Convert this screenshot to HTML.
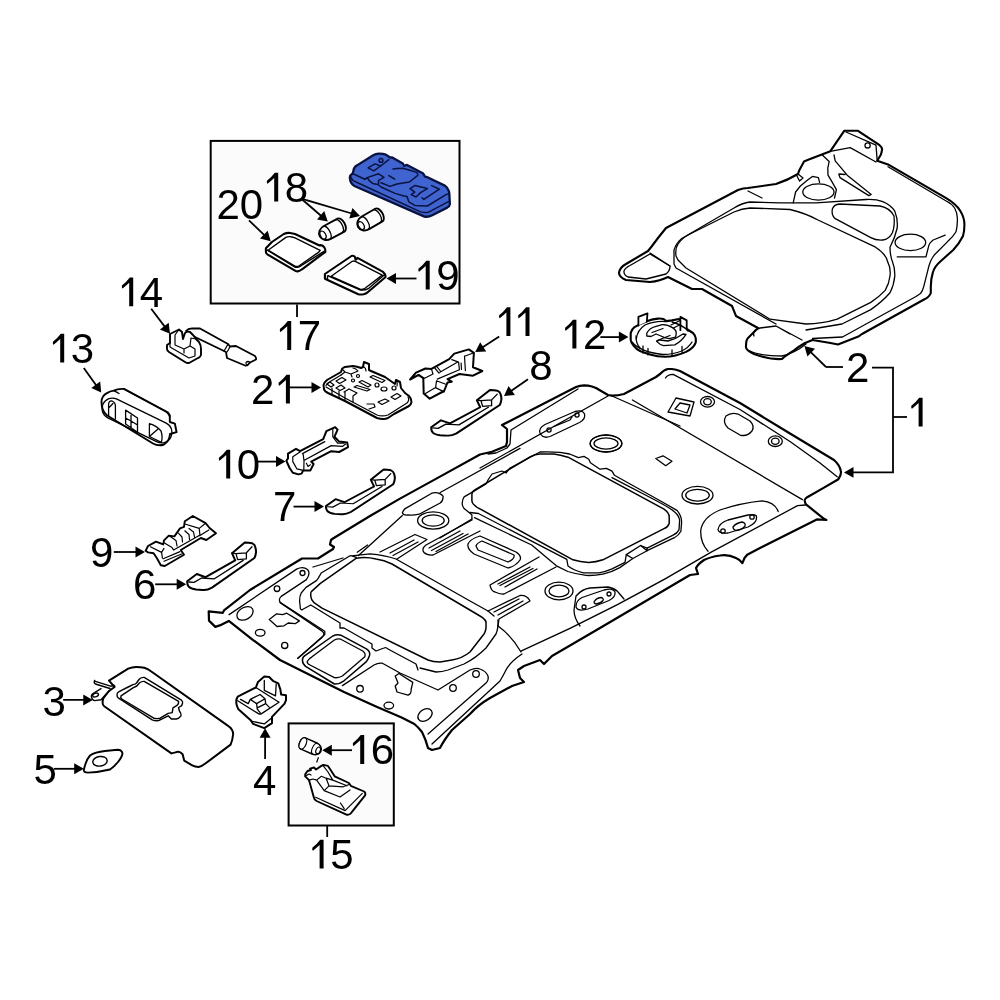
<!DOCTYPE html>
<html><head><meta charset="utf-8"><style>
html,body{margin:0;padding:0;background:#fff;width:1000px;height:1000px;overflow:hidden}
svg{display:block}
text{font-family:"Liberation Sans",sans-serif}
</style></head><body>
<svg width="1000" height="1000" viewBox="0 0 1000 1000">
<rect width="1000" height="1000" fill="#fff"/>
<g fill="#fbfbfb" stroke="#000" stroke-width="2">
<rect x="210.7" y="140.9" width="248.8" height="162.6"/>
<rect x="288.6" y="723.4" width="105.2" height="102.1"/>
</g>
<!-- part 20 -->
<g fill="#fff" stroke="#000" stroke-linejoin="round">
<path stroke-width="2.1" d="M265.9,248.3 L271.9,242 L283.8,234 Q287,232.6 290.1,233 Q292.6,233.3 295,234 L319.5,245.5 L320.2,245.1 L322.3,245.5 Q324.3,246.7 325.1,249 L325.4,251.8 L302,269.3 Q299.8,271.1 297.8,271.4 Q296.2,271.4 295,270.7 L267.7,254.6 Q265.8,253.3 265.9,251.8 Z"/>
<path fill="none" stroke-width="1.4" d="M266.6,249.7 L295,267.2 Q297.2,267.5 299.2,266.8 L324.4,251.1"/>
<path fill="none" stroke-width="1.4" d="M268.4,250 L285.9,237.4 Q288.3,236.3 290.8,236.7 Q293,237 295,237.8 L320.2,250.4 L318.8,252.1 L299.2,265.8 Q297.5,266.7 295.7,266.5 L268.4,250.4"/>
</g>
<!-- part 19 -->
<g fill="#fff" stroke="#000" stroke-linejoin="round">
<path stroke-width="2.1" d="M324.9,274 L351.5,256 Q353,255.3 354.9,256.8 L355.6,259.8 L357.5,257.9 L383,271.8 Q385.3,273.6 385.6,277 L368,292 Q366,293.8 363.5,294.3 Q360.5,294.8 358.3,294.3 L326,279.3 Q324.8,278.7 324.9,278.5 Z"/>
<path fill="none" stroke-width="1.4" d="M327.5,275.5 L360.5,290 Q365,290.5 368.8,288.3 L384.5,274.8"/>
<path fill="none" stroke-width="1.4" d="M331.2,276.3 L352.3,261.3 Q354,260.6 355.3,261.3 L382.3,275.1 L365,288.3 Q362.5,289.6 360.5,289.4 Z"/>
<path fill="none" stroke-width="1.4" d="M327.5,275.5 L327.5,279.8"/>
</g>
<!-- bulbs 18 -->
<g fill="#fff" stroke="#000" stroke-width="1.9">
<g transform="translate(332.6,229.6) rotate(-28)">
<path d="M-6,-7.3 L9.5,-7.3 A4,7.3 0 0 1 9.5,7.3 L-6,7.3 A8.5,7.3 0 0 1 -6,-7.3 Z"/>
<ellipse cx="-11" cy="0.3" rx="2.6" ry="4.3" stroke-width="1.3"/>
<path fill="none" stroke-width="1.3" d="M-6.5,-7.2 A3.8,7.3 0 0 1 -6.5,7.2"/>
<path fill="none" stroke-width="1.3" d="M7.3,-7.1 A3.4,7.1 0 0 1 7.3,7.1"/>
</g>
<g transform="translate(370.6,219.8) rotate(-30)">
<path d="M-6,-7.3 L9.5,-7.3 A4,7.3 0 0 1 9.5,7.3 L-6,7.3 A8.5,7.3 0 0 1 -6,-7.3 Z"/>
<ellipse cx="-11" cy="0.3" rx="2.6" ry="4.3" stroke-width="1.3"/>
<path fill="none" stroke-width="1.3" d="M-6.5,-7.2 A3.8,7.3 0 0 1 -6.5,7.2"/>
<path fill="none" stroke-width="1.3" d="M7.3,-7.1 A3.4,7.1 0 0 1 7.3,7.1"/>
</g>
</g>
<!-- part 17 lamp (blue) -->
<g stroke="#0a1240" stroke-linejoin="round" stroke-linecap="round">
<path fill="#3f63cf" stroke-width="2.3" d="M349.8,177.6 Q350,175 352.8,173.2 L354,168.4 Q355,166.4 357,165.4 L373.2,155.2 Q375.8,153.8 378.6,153.7 Q383,153.6 385.8,154.6 L389.4,157 L390.6,157.6 L391.8,157.3 L402.8,163.4 L404,165.8 L407,164.9 L423.2,173.6 L425,176.6 L427.4,177.2 L444.8,185.6 Q447.3,187.4 447.8,189.2 Q449.2,191.2 449.3,193.4 L449.9,204.2 Q449.6,206.3 447.2,207.6 L432.2,215.2 Q428.5,217.3 424.5,216.6 L354.4,186 Q350.2,183.6 349.8,177.6 Z"/>
<g fill="none" stroke-width="1.5">
<path d="M352.8,173.2 Q353.5,174.3 355.2,174.8 L364.8,179.2 L367.6,177.8 L369,180.4 L372.6,183.4 L378,184.5 L381,187 L395,193.4 L404,196 L407,196.4 L408.8,201.8 L414.8,205.4 L427.4,206 L446,194.6 L449.3,193.4"/>
<path d="M351,177.4 Q352,180.4 356,182 L420,211.6 Q424.5,213 428.6,212.2 L448.5,201.6"/>
<circle cx="381" cy="160.4" r="1.9"/>
<path d="M368.1,167.8 L375,163.9 L380.6,166 L373.8,170.8 Z"/>
<path d="M380.6,166 L388.8,159.6"/>
<path d="M364.8,179.2 L367.8,177.4 L378.6,173.8 L384,177.4 L378.6,180.4 L378.6,183.4"/>
<path d="M388.8,175.6 L394.8,179.2"/>
<path d="M393,169 L397,168.6 L402.8,168.2 L410,170.2 L416.6,172.4 L417.8,174.2"/>
<path d="M381,182.8 L390,186.4 L397,184 L409.4,182 L417.8,175.4"/>
<path d="M410,188.6 L414.8,185.6 L427.4,188.6 L420.5,192.6 L416,197 L411.2,194.6 L414.8,192.2 Z"/>
<path d="M431.6,185.6 L439.4,189.2 L423.8,199.4 L422,197.8"/>
</g>
</g>
<!-- part 1 headliner -->
<g fill="none" stroke="#000" stroke-linejoin="round" stroke-linecap="round">
<path stroke-width="2.2" fill="#fff" d="M208.7,611.3 L222.8,612.8 L224,610.4 L250,590 L302,558.5 L318,558.5 L333,549 L334,547 L330,544.5 L331,540 L333,538.5 L370,516 L400,498.6 L440,476.6 L480,454.5 L492,451.8 L506,446 L507,442 L507,429 L502,425 L576,387 Q580,385.4 584,385.4 L588,385.6 Q592,386.2 596,388 L608,395 L612,395.6 Q618,395.6 624,394 L656,377 L660,374 Q664,369.6 668,369 L672,369 Q676,369.4 680,371 L740,403 L790,433.5 L834,460 Q839.6,465 840.8,470.8 Q841.8,474 838.4,479.2 L824,487.6 L807.2,497.2 Q804,499.6 804.8,500.8 Q805,503 806,504.4 L824,518.8 L826.4,520 L816.8,519.4 L760,548 L747.2,554.8 L744.5,558 L742.4,563.2 Q740,559.5 736,558 Q728,554 720,555.5 Q710,557 704,560 Q698,564 696,568 L698,574 L690,575 L600,628 L552,656 L544,664 L540,660 L524,666 L518,670 L520,678 L524,682 L512,686 L490,698 Q478,705 470,714 L452,730 Q444,740 440,748 L432,750 L428,748 Q426,740 422,732 Q418,727 414.4,724 L401.6,717.6 L376,706.4 L344,692 L312,676 L280,660 L252.8,639.8 L228.8,620.9 L219.8,625.4 L215.3,626.9 L209,620.6 Z"/>
</g>
<!-- headliner interior -->
<g fill="none" stroke="#000" stroke-width="1.3" stroke-linejoin="round" stroke-linecap="round">
<!-- left panel -->
<path d="M229.1,614.6 L296.6,569.1 Q303,566 307.5,569.5 Q311,573.5 306.4,579.6 L281.2,596.4 Q277.5,600 281.2,603.4 L322.5,631.4 Q325.5,634 322,637.5 L297.6,658.4"/>
<circle cx="302.5" cy="573" r="2.5"/>
<circle cx="277" cy="588.7" r="2.8"/>
<ellipse cx="245" cy="613.4" rx="8.8" ry="6" transform="rotate(-30 245 613.4)"/>
<ellipse cx="260.2" cy="632.8" rx="4.8" ry="3.4"/>
<circle cx="284.7" cy="645.4" r="3.1"/>
<path d="M269.3,619.5 L276.3,613.9 L282.6,614.6 L286.8,613.2 L299.4,620.9 L295.2,623.7 L288.2,623 L284,625.8 L277,626.5 Z"/>
<!-- top-left inner line & sunroof rear frame region lines -->
<path d="M313,567 L343,558"/>
<!-- rear cutout -->
<path stroke-width="1.5" d="M302.4,660 Q302.5,657 305.6,655.2 L332.8,636 Q336.8,634 340.8,635.2 L366.4,648.8 Q370.5,651.5 369.6,655.2 Q368.5,659 366.4,661.6 L344,680.8 Q339,684.5 334.4,684 L305.6,666.4 Q302.3,663.5 302.4,660 Z"/>
<path d="M307.2,661.6 Q308.5,658.5 312,656.8 L334.4,640 Q337.6,638.4 340.8,639.2 L362.8,651 Q366,653.5 364.8,656.8 L342.4,676 Q338.5,678.2 334.4,677.6 L310,665 Q307,663.5 307.2,661.6 Z"/>
<path d="M342.4,685.6 L374.4,664.8 Q378.4,662.5 382.4,663.2 L400,673 L438,690 L470,670 Q476,667.5 480,669 Q486,671 488,676 Q489,680 486,683 L428,734"/>
<path d="M522,654 Q510,662 506,670 Q503,676 500,681 L432,744"/>
<circle cx="476" cy="674" r="3.3"/>
<circle cx="453" cy="688" r="3.3"/>
<ellipse cx="425" cy="715" rx="7.8" ry="5.6" transform="rotate(-35 425 715)"/>
<circle cx="360" cy="688.8" r="3.3"/>
<ellipse cx="388.8" cy="705.6" rx="4.8" ry="3.4"/>
<path d="M395.2,676 L399,673.5 L402,675.5 L412.8,682.4 L411.2,689 Q411.5,694 408,695.2 L397,692 L395.2,686 L398,683 Z"/>
<!-- rear sunroof opening -->
<path stroke-width="1.5" d="M310.8,596.2 Q310.5,592 311.6,591.4 L320.4,583.4 L356.4,558.2 Q366,556.5 376,559 Q384,560 392,564 L480,616 Q487,620 486,624 Q486.5,630 484,634 L470,652 Q462,658.5 452,660 L440,662 Q433,662 428,660 L322,608.2 L314,602.6 Q311,600 310.8,596.2 Z"/>
<path d="M302,609.8 L300.4,609 L299.6,601 Q299.5,596 301.2,593 L306,587.4 L316.4,580.6 L318,578.6 L321.2,573 L349.2,556.2 Q351,555.5 351.6,555.8 L356.4,557.4 M351.6,555.8 L370,553.8 Q385,555 396,559 L470,601 L488,611 L494,616"/>
<path d="M357.2,552.2 L367.6,545"/>
<path d="M302,609.8 L310.8,605 L340,623 L340,628 L344,628 L372,644 L372,648 L376,651 L384,648 Q386,647 388,649 L416,664 L418,670"/>
<path d="M498,620 Q498.5,628 496,634 L486,648 Q476,658 464,664 L448,670 Q442,672 436,672 L420,668"/>
<path d="M280,602.4 L324.8,631.2 L324.8,634.4 L297.6,658.4"/>
<!-- middle ribs & features -->
<path d="M402.4,512.8 Q403.5,509.6 405.2,508.6 L431.8,493.2 Q436,491.8 440.2,493.9 Q444,496 443,497.4 Q443,501 440.2,503 L419.2,514.2 Q413,515.6 408,515 Q403,515.5 402.4,512.8 Z"/>
<path d="M440.2,492.5 L520,448.4"/>
<path d="M402.4,515.6 L358.5,555.5"/>
<ellipse cx="433.2" cy="520.5" rx="15.6" ry="8.6"/>
<ellipse cx="433.2" cy="520.5" rx="11" ry="5.6"/>
<path d="M380,552 L415,534.5 L427,539.5 L397,559"/>
<path d="M390,553 L414,540 M393,555.5 L418,542"/>
<path d="M472,520 L426,545 Q421,549 424,552.5 Q427,555.5 433,555 L480,531"/>
<path d="M429,548 L460,531 M431.5,550.5 L463,533.5 M436,551.5 L468,534"/>
<path d="M471.9,519 L440,538"/>
<!-- slot -->
<path d="M468,544 Q470,539 480,536 L516,552 Q522,556 520,560 Q516,566 508,568 L474,554 Q467,549 468,544 Z"/>
<path d="M476,546 Q477,543 482,541 L514,555 Q515,559 508,562 L478,550 Z"/>
<!-- ribs lower -->
<path d="M539,557 L490,585 Q491,591 495,592 Q500,594.5 504,594 L556,567"/>
<path d="M498,584 L530,567 M500,585.5 L533,568.5 M505,587 L537,569"/>
<path d="M488,611 L520,595.5 Q527,595 530,601 L499,619 L498,626"/>
<path d="M494,612 L519,599 M498,615 L523,601"/>
<ellipse cx="559" cy="591" rx="14" ry="8.8"/>
<ellipse cx="559" cy="591" rx="10" ry="5.8"/>
<!-- front sunroof opening -->
<path stroke-width="1.5" d="M471.9,494.3 Q472,491.5 474,490.5 L530,457 Q535,454 540,454 L554,454 Q560,455 568,457.2 L664,509.1 Q669.2,512.5 669.2,516.9 L669.2,523.4 Q668,527 664,528.6 L602.9,559.8 Q596,562.3 588.6,562.4 Q580,562 573,559.8 L477.1,507.3 Q472,504 471.9,500.8 Z"/>
<path d="M612,477.6 L655,500 Q671,508.5 674.4,511.7 Q679.5,516 679.6,520.8 L679,529.9 Q677,533.5 673.1,535.1 L647.1,548.1 L640.6,545.5 L626.3,554.6 L625,562.4 L612,568.9 Q605,572 599,572.8 L583.4,572.8 Q574,570.5 568,566 L566.8,559.3 L531.7,541.1 L478.4,513.5 L470,512.5"/>
<path d="M640.6,545.5 L647.1,550.7 M626.3,554.6 L632.8,558.5 M647.1,548.1 L647.1,550.7"/>
<path d="M471.9,519 L471.9,515 L470.6,513.8 L464.1,508.6 Q462,506 462.2,503.4 Q462.5,499 464.1,496.9 L471.9,492.4 L486,484 L488,480 L492,474 L502,471 L506,473 L510,468 L540,452 Q550,451.5 560,452.4 L569.6,454 L578.4,457.6 L584,456.4 L588.8,459.2 L590.4,462.8 L600,469.2 L606.4,468.4 L612,471.2 L614.4,475.2 L658.8,500 L677,510.4 Q681.5,515.5 681.6,522.1 L680.9,531.2 Q678.5,535.5 674.4,537.7 L647.1,550.7 L632.8,558.5 L619.8,567.6 Q611,572.5 602.9,574.1 Q594,575.8 586,575.4 Q576,574 567.8,571.5 L556.4,565.8 L531.7,545 L474.5,517.7"/>
<!-- right area -->
<path d="M632.4,400 L802.4,499.6"/>
<path d="M608,396 L480,468"/>
<path d="M612,396 L680,426"/>
<path d="M665.5,378 Q667,374.5 673.2,374.3 L740,409.5 L790,441.5 L820,463 L837.2,476.8"/>
<path d="M805.4,505 L797.6,505.6 L711.2,552.1 Q620,607 520.9,651.1"/>
<path d="M498,626 Q512,636 521,652"/>
<ellipse cx="697.5" cy="495.2" rx="15.5" ry="8.8"/>
<ellipse cx="697.5" cy="495.2" rx="11.8" ry="5.9"/>
<ellipse cx="606" cy="443.5" rx="15.8" ry="8.5"/>
<ellipse cx="606" cy="443.5" rx="12" ry="5.6"/>
<ellipse cx="606" cy="443.5" rx="15.8" ry="8.5"/>
<path d="M655.8,458.5 L663,455.8 L672,461.2 L665.7,465.7 Z"/>
<path d="M668,412 L676,398 L694,402 L690,416 Z M675,409 L680,403 L690,405 L687,413 Z"/>
<ellipse cx="707.5" cy="401.8" rx="7" ry="5.3"/><ellipse cx="707.5" cy="401.8" rx="3.8" ry="3.1"/>
<ellipse cx="775.3" cy="441.2" rx="7" ry="5.3"/><ellipse cx="775.3" cy="441.2" rx="3.8" ry="3.1"/>
<path d="M726,416 Q731,412 738,414 L750,421 Q755,426 752,431 Q747,437 740,435 L728,428 Q722,422 726,416 Z"/>
<!-- grab recess right -->
<path d="M708,551.2 Q700,542 700.8,530 Q703,517 720,510 Q740,503 762,500.8 Q775,502 778.2,511.6"/>
<path d="M718,529.6 Q719,523 728,520 L748,515 Q757,514 756.6,517 Q757,523 748,527 L728,533 Q719,534 718,529.6 Z"/>
<circle cx="723" cy="531" r="2.2"/><circle cx="752" cy="517" r="2.2"/>
<path d="M733,527 Q736,523 742,522 Q746,523 745,526 Q742,530 736,530.5 Q733,529.5 733,527 Z"/>
<!-- grab recess mid -->
<path d="M580,626 Q574,618 574,610 Q576,596 576,596 Q582,589 590,588 L608,587 Q616,589 618,592 L624,599"/>
<path d="M576,607 Q575.5,601 582,597.5 L604,590 Q613,587.5 615,592 Q616,597 609,600.5 L588,609 Q578,612 576,607 Z"/>
<circle cx="584" cy="607" r="2"/><circle cx="609" cy="594" r="2"/>
<path d="M594,602 Q596,598 601,597.5 Q604,598 603,600.5 Q600,604 596,604 Q594,603.5 594,602 Z"/>
<!-- top recess -->
<path d="M540,433 Q538.5,428 545,424.5 L575,411.5 Q582.5,409.5 584.5,414 Q586,419 579.5,422.5 L550,436.5 Q543,439 540,433 Z"/>
<circle cx="549" cy="430" r="2.1"/><circle cx="577" cy="415" r="2.1"/>
<path d="M554,426.5 L559,424.3 L570,420 L572,417"/>
<!-- left side top inner line -->
<path d="M488,454 L496,453 L507,448 L510,444 L511,430 L578,389"/>
</g>
<!-- part 2 -->
<g fill="none" stroke="#000" stroke-linejoin="round" stroke-linecap="round">
<path fill="#fff" stroke-width="2.1" d="M619,273 Q619.5,267.5 626,264 L648,251 L652,246 L655,242 L658,238 L666,228 L738,190 Q743,188 748,188 L776,184 Q788,180 798,174 L799.2,170.4 L804,161.4 L808.8,159.6 L830.4,151.2 L844.2,130.8 L858,130.8 L879.6,145.2 Q882.5,147.5 882,150 Q881.5,153 880.8,154.8 L877.2,160.8 L888,164.4 L946.2,198.2 Q956,204 960.2,210.8 Q964.6,218 964.4,224.8 Q964.5,231 963,236 Q959,244 953.2,250 L940.6,261.2 Q934,267 932.9,272.4 Q930.8,279 930.8,286.4 L930.8,293 Q929.5,297 924,299.5 L862,334 L859,336.2 L838,344.5 L830.5,343 L812.5,340 L805,343 Q798,347 794,350.4 Q785,356 782,359 Q770,360 754,354 Q745,350 746,346 Q746,340 748,338 L754,332 L758,328 L736,316 L732,306 L702,289 L692,289 L668,277 Q660,281 650,282 L626,280 Q619,277 619,273 Z"/>
<g stroke-width="1.3">
<path d="M624,271 Q625,268 630,265.5 L650,254 L670,266 Q670,271 666,274 L646,279 L628,277 Q623.5,275 624,271 Z"/>
<path d="M676,256 Q675,248 678,244 Q682,238 690,234 L734,212 Q742,208.5 750,208 L790,209.5 Q805,213 818,220 L875.6,247.2 Q886,254 887.6,261.6 Q891,268 890,276 Q889,284 885.2,290.4 Q879,297 870.8,302.4 L837.2,319.2 Q822,324 806,324 L770,319.2 L686,268 L678,260 Z"/>
<path d="M674,264 L674,250 Q677,240 686,236 L734,208 Q742,203 750,202 L780,202.8 L816,202.8 L866,199.5 Q876,199 882.8,201.6 Q891,205 894.8,211.2 Q898,219 897.2,228 Q895,238 890,247.2 Q890,255 892.4,261.6 Q895,268 894.8,276 Q894,285 890,292.8 Q882,302 870.8,309.6 L842,324 L806,330 M674,264 L676,268 L776,324"/>
<path d="M832.4,208.8 Q834,204.5 839.6,204 L880,206 Q890,208 894,216 Q895,226 892.4,232.8 Q889,239.5 882.8,240 Q876,240.5 870.8,237.6 L834.8,218.4 Q831,214 832.4,208.8 Z"/>
<ellipse cx="910.4" cy="242.4" rx="15.3" ry="8.2"/>
<ellipse cx="818.4" cy="192" rx="15.6" ry="8.1"/>
<path d="M888,166.8 L946.2,201 Q952,204 954.6,208 Q957.5,213 957.4,219.2 Q957.5,226 956,231.8 Q953,237 947.6,241.6 L935,254.2 Q930,260 928,269.6 L923.8,286.4 Q922.5,291.5 920.5,293.5 L916,296.5 L842.5,337 L812.5,338.5"/>
<path d="M945.2,235.2 L933.2,240 Q929,243 928.4,247.2 L926,256.8 L897.2,256.8"/>
<path d="M831.6,151.2 L850.2,147.6 L876,162 M846,132 L876,145.2 L877.2,160.8 M850.2,147.6 L876,162"/>
<circle cx="867.6" cy="145.4" r="2.6"/>
<path d="M822,154.8 L829.2,161.4 Q827,168 828,175.2 L831.6,181.2 L836.4,189.6 L834.5,198"/>
<path d="M834,154.8 L835.2,160.8 L847.2,175.2 L871.2,194.4 L868.8,195.6 L840,177.6 L838.8,174 L845,174.5"/>
<path d="M793.2,202.8 L795.6,192 L800.4,186 L807.6,180 L812.4,176.4 L818.4,177.6 L819.6,182.4"/>
<path d="M798,174 L803,178 L799.5,181 L797,176"/>
<path d="M748,191 L762,198"/>
<path d="M650,253 L670,266"/>
<path d="M754,336 Q752,330 760,328 L776,326 L802,340 M776,326 L790,334"/>
<path d="M750,351 Q760,356 782,356 Q795,353 806,344"/>
</g>
</g>
<!-- part 3 visor -->
<g fill="none" stroke="#000" stroke-linejoin="round" stroke-linecap="round">
<path fill="#fff" stroke-width="2" d="M102.6,703 Q102.5,700 103.4,698.2 L109,691 L114.6,687 L109,680.6 L128.2,668.6 Q132,667 136.2,667 Q140.5,667 144.2,667.8 Q148,669 150.6,671 L227.4,725.4 Q231,727.5 232.2,730.2 Q233.5,732.5 233,735 Q232.5,740.5 230.6,744.6 L205,763.8 Q201.5,766.5 198.6,767 Q195,767 192.2,765.4 L184.2,760.6 L182.6,754.2 Q180,751.5 177.8,751.8 L174.6,752.6 L171.4,753.4 L104.2,706.2 Q102.7,705 102.6,703 Z"/>
<g stroke-width="1.4">
<path d="M117,695 Q117,692.5 118.6,691.8 L128.2,687 L133,684.6 Q136,684 136.5,683 L139.4,679 Q141.5,677.2 144.2,677.4 L181,699.8 Q183,701.5 182.6,703 Q182,705.5 181,706.2 L178.5,707.5 L179.4,711 Q181.5,713.5 181,715.8 Q179,718.5 176.2,719 L171.4,719 L168.2,715.8 L158.6,720.6 Q155,721 152.2,719.8 L118.6,698.2 Q116.8,697 117,695 Z"/>
<path d="M121,695.8 L133,687.8 L136.8,686 L139.4,683 Q141.5,681.2 144.2,681.4 L178.6,701.4 Q179,703.8 177,705.4 L173,707.8 L172.2,712.6 L168.2,713.4 L160.2,718.2 Q157,719 153.8,718.2 L121.8,699 Q120.2,697.5 121,695.8 Z"/>
<path d="M94.6,680.6 L95.4,681.4 L110.6,686.2 L114.6,685.4 M94.6,680.6 Q93.5,683 95.4,684 L110,688.5 M101,688.6 L94.6,692.6 Q91,694.5 91.4,696.6 Q92,700 94.6,700.6 L101,699.8 L109,691"/>
<ellipse cx="95.6" cy="695" rx="3" ry="1.8" transform="rotate(-20 95.6 695)"/>
</g>
</g>
<!-- part 5 -->
<g fill="#fff" stroke="#000" stroke-linejoin="round">
<path stroke-width="1.9" d="M83.8,770 Q86,760 90,755.5 Q95,752 105,751 L117.5,749.8 Q122,750 122.5,753.5 Q122,757 118,762 Q114,767 110,769.5 Q100,772 88,772.6 Q83.5,772.5 83.8,770 Z"/>
<ellipse stroke-width="1.4" cx="100" cy="761.3" rx="7.2" ry="4.8" transform="rotate(-8 100 761.3)"/>
</g>
<!-- handles 6,7,8 -->
<g fill="none" stroke="#000" stroke-linejoin="round" stroke-linecap="round">
<g transform="translate(187.2,581.2) scale(1,1)">
<path fill="#fff" stroke-width="2" d="M0,0 L9.6,-7.2 L18.4,-4 L48,-20.8 L44.8,-28 L57.6,-38.8 Q62,-38.6 64.8,-38 Q67.6,-36.5 68,-34.4 Q69,-31.5 68.8,-28.8 Q68.5,-25.5 67.2,-23.2 L24.8,6.4 Q20.5,8.8 16.8,8.8 Q12.5,8.9 8.8,8.4 Q3.5,7.5 1.6,5.6 Q-0.2,3.5 0,0 Z"/>
<path stroke-width="1.3" d="M1.6,0.8 L6.8,1.2 L14.4,-3.2 L27.2,-2.4 L56,-20.8 M44.8,-28 L48.8,-27.6 L59.2,-28.4 L64.8,-34.4 M48.8,-27.6 L50.4,-21.6 L59.2,-22.4 L59.2,-28.4"/>
</g>
<g transform="translate(326,506) scale(1.0,0.94)">
<path fill="#fff" stroke-width="2" d="M0,0 L9.6,-7.2 L18.4,-4 L48,-20.8 L44.8,-28 L57.6,-38.8 Q62,-38.6 64.8,-38 Q67.6,-36.5 68,-34.4 Q69,-31.5 68.8,-28.8 Q68.5,-25.5 67.2,-23.2 L24.8,6.4 Q20.5,8.8 16.8,8.8 Q12.5,8.9 8.8,8.4 Q3.5,7.5 1.6,5.6 Q-0.2,3.5 0,0 Z"/>
<path stroke-width="1.3" d="M1.6,0.8 L6.8,1.2 L14.4,-3.2 L27.2,-2.4 L56,-20.8 M44.8,-28 L48.8,-27.6 L59.2,-28.4 L64.8,-34.4 M48.8,-27.6 L50.4,-21.6 L59.2,-22.4 L59.2,-28.4"/>
</g>
<g transform="translate(431.2,427.2) scale(1.02,0.96)">
<path fill="#fff" stroke-width="2" d="M0,0 L9.6,-7.2 L18.4,-4 L48,-20.8 L44.8,-28 L57.6,-38.8 Q62,-38.6 64.8,-38 Q67.6,-36.5 68,-34.4 Q69,-31.5 68.8,-28.8 Q68.5,-25.5 67.2,-23.2 L24.8,6.4 Q20.5,8.8 16.8,8.8 Q12.5,8.9 8.8,8.4 Q3.5,7.5 1.6,5.6 Q-0.2,3.5 0,0 Z"/>
<path stroke-width="1.3" d="M1.6,0.8 L6.8,1.2 L14.4,-3.2 L27.2,-2.4 L56,-20.8 M44.8,-28 L48.8,-27.6 L59.2,-28.4 L64.8,-34.4 M48.8,-27.6 L50.4,-21.6 L59.2,-22.4 L59.2,-28.4"/>
</g>
</g>
<!-- part 9 -->
<g fill="none" stroke="#000" stroke-linejoin="round" stroke-linecap="round">
<path fill="#fff" stroke-width="1.9" d="M145.6,550.8 L148,546 L156,541.6 L163.2,544.4 L164,540.4 L168.8,535.6 L174.4,536.4 L180,528.4 L184,526.8 L184.8,521.2 L192.8,516 L205.6,523.2 L209.6,528 L216,533.2 L206.4,540 L200.8,538 L180.8,550 L184,554.8 L164.8,566 L160.8,565.2 L156.8,558 L153.6,553.2 L148,552.4 Z"/>
<path stroke-width="1.2" d="M150.4,546.8 L161.6,552.4 L164,548.4 M161.6,552.4 L162.4,558 M164,542.8 L172,547.6 L173.6,550 M184.8,524 L199.2,528.4 L205.6,523.2 M199.2,528.4 L200,535.6 L208.8,530 M173.6,550 L199.2,535.6 M178.4,533.2 L182,537 L182.5,542 M184.8,530.8 L189,534.5 L189.5,539.5 M189,528.5 L193.5,532 L194.5,537 M168.8,535.6 L176,540.5 L177,546 M163.2,558.8 L180,551.6 M164,561.2 L181.6,554"/>
</g>
<!-- part 10 -->
<g fill="none" stroke="#000" stroke-linejoin="round" stroke-linecap="round">
<path fill="#fff" stroke-width="2" d="M286.4,460.8 L288,458.4 L288,453.6 L296,448.8 L300,451.2 L323.2,439.2 L326.4,431.2 L335.2,427.2 L337.6,429.6 L334.4,436.8 L339.2,441.6 L347.2,442.4 L348,447.2 L339.2,452 L331.2,451.2 L311.2,461.6 L313.6,464 L310.4,470.4 L303.2,470.4 L301.6,473.6 L298.4,474.4 L292.8,472.8 L289.6,468 Z"/>
<path stroke-width="1.2" d="M302.4,453.6 L324.8,441.6 M304.8,460 L331.2,445.6 L342.4,446.4 L345.6,444 M300,452 L292.8,456.8 L292.8,461.6 L296.8,468.8 L303.2,470.4 M303.2,454.4 L304,461 L303.8,470 M306.4,463.2 L308,466.4 L310.4,464.8 M332.8,428.8 L332.8,436.8 L337.6,443.2 L344,443.2"/>
</g>
<!-- part 21 -->
<g fill="none" stroke="#000" stroke-linejoin="round" stroke-linecap="round">
<path fill="#fff" stroke-width="2" d="M323.5,385 Q324.5,382 327,380 L341,372 L342,369 Q343,367.5 345,367 L353,366 Q357,366.5 361,368 L363,367 L364,362 L369,364 L369,370 L371,371 L385,377 L395,384 L396,380 L400,382 L401,388 L405,393 L409,396 Q411.5,398.5 411.5,402 Q411,404.5 409,406 L394,414 L388,418 Q385.5,419.2 383,419 Q380,419 377,418 L345,401 L328,393 Q324,391 324,389 Z"/>
<g stroke-width="1.2">
<path d="M326,385.5 Q327,383 329.5,382 L341,375 M326,387 L345,398 L377,415 Q382,416.8 388,415 L407,403 Q409.8,400 408,397"/>
<path d="M342,369 L345,372 L351,374 L358,371 Q356,368.5 353,368 M345,372 L341,375 M351,374 L352,377"/>
<path d="M336,381 L342,377.5 L346,380 L339.5,383.5 Z M327,384 L330,382 L334,385 L331,387 Z M336,388 L341,385 L345,388 L340,390.5 Z"/>
<path d="M359,382 L362,380.5 L371,385 L368,387 Z M354,387 L357,385.5 L370,389.5 L367,391 Z M370,377 L373,375.5 L385,380.5 L382,382.5 Z"/>
<circle cx="353" cy="380.5" r="1.5"/><circle cx="358" cy="376" r="1.5"/><circle cx="377" cy="385" r="2"/><ellipse cx="384" cy="389" rx="3" ry="2"/><circle cx="394" cy="388" r="2"/>
<path d="M378,402 L385,399 L389,401 L382,404.5 Z M391,397 L397,393.5 L401,396 L395,399.5 Z M367,404 L374,404 L375,407 L369,409"/>
<path d="M332,388 L332,394 M339,391 L339,398 M349,389 L357,393 L353,396 L353,402 M344,392 L349,389 M345,392 L345,400"/>
<path d="M364,367 Q366,368 366,371 M396,380 Q398,383 397,386"/>
</g>
</g>
<!-- part 11 -->
<g fill="none" stroke="#000" stroke-linejoin="round" stroke-linecap="round">
<path fill="#fff" stroke-width="2" d="M410.1,379.5 L416,372.7 L425.4,368.5 L431.4,368.9 L449.2,359.1 L454.3,353.6 L460.3,351.9 L468.8,349.4 L473.9,352.8 L473,367.2 L482.4,371 L473,375.7 L459.4,374 L447.5,379.1 L451.8,381.7 L447.5,382.5 L444.1,391 L429.7,398.7 L423.7,393.6 L423.3,378.3 L418.6,374.9 Z"/>
<path stroke-width="1.2" d="M418.6,374.9 L424.6,378.3 L433,374 L431.4,368.9 M439.9,372.3 L457.7,362.1 M437.3,379.1 L459.4,369.8 M451.8,359.6 L458.6,362.1 L459.4,369.8 M464.5,356.2 L473.9,352.8 M464.5,356.2 L465.4,370.6 M461.1,363 L461.5,369.5 M436.5,380.8 L445.8,384.2 M436.5,380.8 L435.6,387.6 L425.4,393.6 M435.6,387.6 L444.1,391.9 M434.8,368 L439,373.2 M437.3,367.2 L440.7,371.5"/>
</g>
<!-- part 12 -->
<g fill="none" stroke="#000" stroke-linejoin="round" stroke-linecap="round">
<path fill="#fff" stroke-width="2.1" d="M630.7,333 Q631.5,329.5 634.2,327.4 L639.1,324.6 L647.5,321.1 Q653,319 658,318.6 Q661,318.4 663.6,319 L666.4,321.1 L672,320.4 L679,319 Q684,324 687.4,329.5 L693,333 Q695.8,336 695.8,338.6 L695.8,342.1 Q695,345 693,347 Q690,350 686,351.9 Q681,354 675.5,355.4 Q670,356.8 665,356.8 Q657,356.5 651,354.7 Q645,353 640.5,351.2 Q636,349 633.5,345.6 Q631,343 630.7,340 Z"/>
<path fill="#fff" stroke-width="1.8" d="M638.4,325.5 L638.4,316.9 L647.5,313.4 L646.8,321.8 M680.4,330.2 L680.4,316.9 L686.7,320.4 L686.7,327.4"/>
<g stroke-width="1.3">
<path d="M632,342 Q640,352 663,354.5 Q685,354 692,342"/>
<path d="M636.3,338.6 Q637.5,330 645,325 Q655,320.5 666,321.5 M672,322 Q683,325 688,331"/>
<path d="M646.8,333 Q650,328 655.2,326.7 L662.2,324.6 Q668,324.5 672,327.4 Q676.5,330 676.2,333 Q676,336 675.5,337.2 L669.2,338.6 Q664,338 661,336 L656,334 L651,336.5 L646.8,336 Z"/>
<path d="M652,332.5 L663,328.5 M657,340.5 L670,335.5"/>
<path d="M656.6,341.4 Q660,345 663.6,345.6 L674.8,344.9 Q682,341 686,334.4 L683,334 Q676,339 668,341 L660,340 Z"/>
<path d="M643,346 L643,353 M648,348.5 L648,355 M672,350 L672,355.5 M682,346.5 L682,352.5 M636,336 Q636,344 640,348"/>
<path d="M671,325 L679,321 M673.5,328 L680.5,324.5"/>
</g>
</g>
<!-- part 13 -->
<g fill="none" stroke="#000" stroke-linejoin="round" stroke-linecap="round">
<path fill="#fff" stroke-width="1.9" d="M101.5,402 Q101.5,396 106.9,393.1 Q110,391 113.7,390.6 Q118,388.5 123.9,388.9 L168.1,412.7 L169.8,415.2 L169.8,422 L174.9,423.7 L176.6,432.2 L170,434 Q169.5,441 164,444.5 Q158.5,446.5 153,443.5 L106.9,415.2 Q101.5,411 101.5,402 Z"/>
<g stroke-width="1.3">
<rect x="-37.8" y="-10.4" width="75.6" height="20.8" rx="10.4" transform="translate(137,420.5) rotate(26)"/>
<path d="M113.7,390.6 Q117,392 119,393.5 M123.9,388.9 L166,411.5 Q168.5,414 169.8,417"/>
<path d="M108.6,416 L108.6,404 Q109,400.5 112,401 Q115.5,402.5 115.4,406 L115.4,419 M108.6,408 L113,403.5"/>
<path d="M125.6,410.1 L125.6,424 L137.5,432.2 L137.5,418 Z M131,413.5 L131,427.5 M125.6,418 L131,421 L137.5,425"/>
<path d="M149.4,423.7 L149.4,436.5 L161.3,442.4 Q163,437 161,431 Q157,426 149.4,423.7 Z M149.4,436.5 L158,429"/>
</g>
</g>
<!-- part 14 -->
<g fill="none" stroke="#000" stroke-linejoin="round" stroke-linecap="round">
<path fill="#fff" stroke-width="1.8" d="M186,331 Q188,328.5 192,328.3 L200,328.5 L228,344 L230,346.5 L236,346 L255,356 Q256.5,358 256,359.5 L250,362.5 Q247,366.5 245,365.5 L227,358 L226,352 L224,351 L195,337 Z"/>
<path stroke-width="1.2" d="M228,344 Q226,348 224,351 M230,346.5 Q228.5,350 227,352 M250,362.5 Q248,360.5 246,362.5 Q245.5,364.5 247.5,365.5"/>
<path fill="#fff" stroke-width="1.9" d="M167,345 L170,343 L170,334 L179,329.5 L182,332 L183,339 L185,333 Q187.5,331 190,332 L193,335 L196,339 L199,342 Q201,345 201,349 L201,355 Q200,357.5 198,358 L189,363 Q187,363.3 185,362 L169,352 Q167,350.5 167,349 Z"/>
<path stroke-width="1.2" d="M170,343 L170,347 L189,358 L195,356 M175,335 L175,345 L184,349 L190,346 L191,338 M179,329.5 L175,335 M184,349 L184,353 M190,346 L195,349 L195,356 M191,338 L196,339"/>
</g>
<!-- part 4 -->
<g fill="none" stroke="#000" stroke-linejoin="round" stroke-linecap="round">
<path fill="#fff" stroke-width="2" d="M236.3,702.9 Q236,699 237.7,696.6 L255.9,687.5 L258,681.9 L264.3,676.6 L269.2,677 L273.4,681.2 L278.3,683.3 L280.4,689.6 L281.1,694.5 L286,695.2 L286,700.1 L284.6,703.6 L272,716.9 L272,723.2 L264.3,728.1 L253.1,723.9 L251,720.4 L238.4,709.2 Q236.5,706 236.3,702.9 Z"/>
<path stroke-width="1.3" d="M237.7,700.8 L258,713.4 Q260,714.5 260.8,714.1 L279,702.2 M255.9,687.5 L279,702.2 M240.5,699.4 L248.2,703.6 L250.3,699.4 L260.1,694.5 L265,698.7 L256.6,703.6 L250.3,699.4 M256.6,703.6 L257.3,709.2 L260.1,712.7 M257.3,707.8 L265.7,703.6 L265,698.7 M265.7,703.6 L269.2,707.1 M264.3,680.5 L264.3,690.3 L275.5,695.9 L276.2,684 M251,721.1 L264.3,723.9 L271.3,718.3"/>
</g>
<!-- part 16 bulb -->
<g fill="#fff" stroke="#000" stroke-width="1.8" stroke-linejoin="round">
<g transform="translate(310,746.5) rotate(24) scale(-0.82,0.82)">
<path d="M-6,-7.3 L9.5,-7.3 A4,7.3 0 0 1 9.5,7.3 L-6,7.3 A8.5,7.3 0 0 1 -6,-7.3 Z"/>
<ellipse cx="-11" cy="0.3" rx="2.6" ry="4.3" stroke-width="1.4"/>
<path fill="none" stroke-width="1.4" d="M-6.5,-7.2 A3.8,7.3 0 0 1 -6.5,7.2"/>
<ellipse cx="9.5" cy="0" rx="4" ry="7.3" stroke-width="1.6"/>
</g>
<path fill="none" stroke-width="1.2" d="M318.5,757.3 L316.6,762.5"/>
</g>
<!-- part 15 -->
<g fill="none" stroke="#000" stroke-linejoin="round" stroke-linecap="round">
<path fill="#fff" stroke-width="1.9" d="M305.2,774.4 L307.5,771 L311,770 L310,768.7 L314,767.5 L316,769.5 L321.4,765.9 L323.3,764.9 L328,765.9 L334.7,776.3 L348.9,783 L350.8,785.8 L364.1,791.5 Q366,793 365.1,795.3 L350.8,813.4 Q349,815 347,814.8 L316.6,801 Q314,799.5 313.8,797.2 L309,780.1 L305.2,776.3 Z"/>
<path stroke-width="1.2" d="M315.7,797.2 L345.1,810.6 L362.3,793.4 M316.6,780.1 L321.4,776.3 L326.1,778.2 L329,785.8 L324.2,790.6 L316.6,780.1 M329,785.8 L343.2,786.8 L349,784.5 M323.3,765.9 L328,772 L332.8,780.1 L347,785.8 M326.1,778.2 L332.8,780.1 M340.4,803 L344.2,808.7 M324.2,790.6 L340,797 L350,790 M309,780.1 L313,779 L316.6,780.1 M305.2,776.3 L309,774 L311,775"/>
</g>

<g font-size="42" fill="#000" style="will-change:transform">
<text x="284.80" y="202.00">8</text>
<text x="216.45" y="218.80">2</text>
<text x="239.80" y="218.80">0</text>
<text x="436.30" y="290.00">9</text>
<text x="297.80" y="350.40">7</text>
<text x="139.80" y="306.75">4</text>
<text x="70.80" y="363.00">3</text>
<text x="250.95" y="404.00">2</text>
<text x="583.00" y="349.00">2</text>
<text x="529.15" y="380.20">8</text>
<text x="845.95" y="382.00">2</text>
<text x="236.80" y="479.00">0</text>
<text x="272.95" y="521.40">7</text>
<text x="89.95" y="567.25">9</text>
<text x="132.95" y="598.50">6</text>
<text x="42.45" y="716.00">3</text>
<text x="33.45" y="783.50">5</text>
<text x="252.98" y="795.00">4</text>
<text x="370.80" y="764.40">6</text>
<text x="330.20" y="869.00">5</text>
</g>
<g fill="#000">
<path d="M274.80,172.70 L278.20,172.70 L278.20,201.50 L274.20,201.50 L274.20,177.90 Q270.70,181.10 267.60,183.70 L266.90,183.10 L266.90,180.70 Q271.20,177.50 274.80,172.70 Z"/>
<path d="M426.30,260.70 L429.70,260.70 L429.70,289.50 L425.70,289.50 L425.70,265.90 Q422.20,269.10 419.10,271.70 L418.40,271.10 L418.40,268.70 Q422.70,265.50 426.30,260.70 Z"/>
<path d="M287.80,321.10 L291.20,321.10 L291.20,349.90 L287.20,349.90 L287.20,326.30 Q283.70,329.50 280.60,332.10 L279.90,331.50 L279.90,329.10 Q284.20,325.90 287.80,321.10 Z"/>
<path d="M129.80,277.45 L133.20,277.45 L133.20,306.25 L129.20,306.25 L129.20,282.65 Q125.70,285.85 122.60,288.45 L121.90,287.85 L121.90,285.45 Q126.20,282.25 129.80,277.45 Z"/>
<path d="M60.80,333.70 L64.20,333.70 L64.20,362.50 L60.20,362.50 L60.20,338.90 Q56.70,342.10 53.60,344.70 L52.90,344.10 L52.90,341.70 Q57.20,338.50 60.80,333.70 Z"/>
<path d="M286.50,374.70 L289.90,374.70 L289.90,403.50 L285.90,403.50 L285.90,379.90 Q282.40,383.10 279.30,385.70 L278.60,385.10 L278.60,382.70 Q282.90,379.50 286.50,374.70 Z"/>
<path d="M507.00,307.20 L510.40,307.20 L510.40,336.00 L506.40,336.00 L506.40,312.40 Q502.90,315.60 499.80,318.20 L499.10,317.60 L499.10,315.20 Q503.40,312.00 507.00,307.20 Z"/>
<path d="M526.10,307.20 L529.50,307.20 L529.50,336.00 L525.50,336.00 L525.50,312.40 Q522.00,315.60 518.90,318.20 L518.20,317.60 L518.20,315.20 Q522.50,312.00 526.10,307.20 Z"/>
<path d="M573.00,319.70 L576.40,319.70 L576.40,348.50 L572.40,348.50 L572.40,324.90 Q568.90,328.10 565.80,330.70 L565.10,330.10 L565.10,327.70 Q569.40,324.50 573.00,319.70 Z"/>
<path d="M919.20,397.70 L922.60,397.70 L922.60,426.50 L918.60,426.50 L918.60,402.90 Q915.10,406.10 912.00,408.70 L911.30,408.10 L911.30,405.70 Q915.60,402.50 919.20,397.70 Z"/>
<path d="M226.80,449.70 L230.20,449.70 L230.20,478.50 L226.20,478.50 L226.20,454.90 Q222.70,458.10 219.60,460.70 L218.90,460.10 L218.90,457.70 Q223.20,454.50 226.80,449.70 Z"/>
<path d="M360.80,735.10 L364.20,735.10 L364.20,763.90 L360.20,763.90 L360.20,740.30 Q356.70,743.50 353.60,746.10 L352.90,745.50 L352.90,743.10 Q357.20,739.90 360.80,735.10 Z"/>
<path d="M320.20,839.70 L323.60,839.70 L323.60,868.50 L319.60,868.50 L319.60,844.90 Q316.10,848.10 313.00,850.70 L312.30,850.10 L312.30,847.70 Q316.60,844.50 320.20,839.70 Z"/>
</g>
<g stroke="#000" stroke-width="1.8" fill="none" stroke-linecap="butt">
<line x1="249.0" y1="220.3" x2="264.6" y2="235.4"/>
<line x1="301.0" y1="198.5" x2="321.3" y2="216.0"/>
<line x1="301.0" y1="198.5" x2="351.8" y2="213.5"/>
<line x1="416.5" y1="278.5" x2="395.0" y2="278.5"/>
<line x1="151.2" y1="308.8" x2="164.9" y2="326.9"/>
<line x1="83.8" y1="368.0" x2="96.3" y2="385.6"/>
<line x1="289.0" y1="387.4" x2="312.5" y2="387.4"/>
<line x1="499.2" y1="336.5" x2="482.3" y2="347.4"/>
<line x1="600.4" y1="337.1" x2="619.9" y2="337.1"/>
<line x1="528.0" y1="379.2" x2="511.0" y2="391.1"/>
<line x1="257.0" y1="461.6" x2="277.0" y2="461.6"/>
<line x1="293.5" y1="506.6" x2="315.5" y2="506.6"/>
<line x1="113.8" y1="552.0" x2="136.5" y2="552.0"/>
<line x1="155.2" y1="584.3" x2="177.7" y2="584.3"/>
<line x1="63.2" y1="699.8" x2="84.3" y2="699.9"/>
<line x1="53.8" y1="768.8" x2="75.2" y2="768.8"/>
<line x1="265.1" y1="759.0" x2="265.1" y2="736.7"/>
<line x1="352.0" y1="750.2" x2="330.8" y2="750.2"/>
<line x1="826.0" y1="367.0" x2="810.5" y2="351.9"/>
<line x1="297" y1="304.5" x2="297" y2="317"/>
<line x1="327.2" y1="825.5" x2="327.2" y2="837"/>
<polyline points="826,367 843,367"/>
<polyline points="872,367.6 893,367.6 893,472.4 852,472.4"/>
<line x1="893" y1="417" x2="907" y2="417"/>
</g>
<g fill="#000">
<polygon points="270.7,241.3 260.0,238.6 267.7,230.7"/>
<polygon points="327.8,221.5 317.0,219.5 324.2,211.1"/>
<polygon points="360.0,215.9 349.3,218.5 352.4,207.9"/>
<polygon points="386.5,278.5 396.0,273.0 396.0,284.0"/>
<polygon points="170.0,333.8 159.9,329.4 168.7,322.8"/>
<polygon points="101.2,392.5 91.3,388.0 100.2,381.6"/>
<polygon points="321.0,387.4 311.5,392.9 311.5,381.9"/>
<polygon points="475.2,352.0 480.2,342.2 486.2,351.5"/>
<polygon points="628.4,337.1 618.9,342.6 618.9,331.6"/>
<polygon points="504.0,396.0 508.6,386.0 514.9,395.1"/>
<polygon points="285.5,461.6 276.0,467.1 276.0,456.1"/>
<polygon points="324.0,506.6 314.5,512.1 314.5,501.1"/>
<polygon points="145.0,552.0 135.5,557.5 135.5,546.5"/>
<polygon points="186.2,584.3 176.7,589.8 176.7,578.8"/>
<polygon points="92.8,700.0 83.2,705.4 83.3,694.4"/>
<polygon points="83.8,768.8 74.2,774.2 74.2,763.2"/>
<polygon points="265.1,728.2 270.6,737.7 259.6,737.7"/>
<polygon points="322.3,750.2 331.8,744.7 331.8,755.7"/>
<polygon points="804.4,346.0 815.0,348.7 807.4,356.6"/>
<polygon points="844,472.4 853.5,467 853.5,477.8"/>
</g>
</svg>
</body></html>
